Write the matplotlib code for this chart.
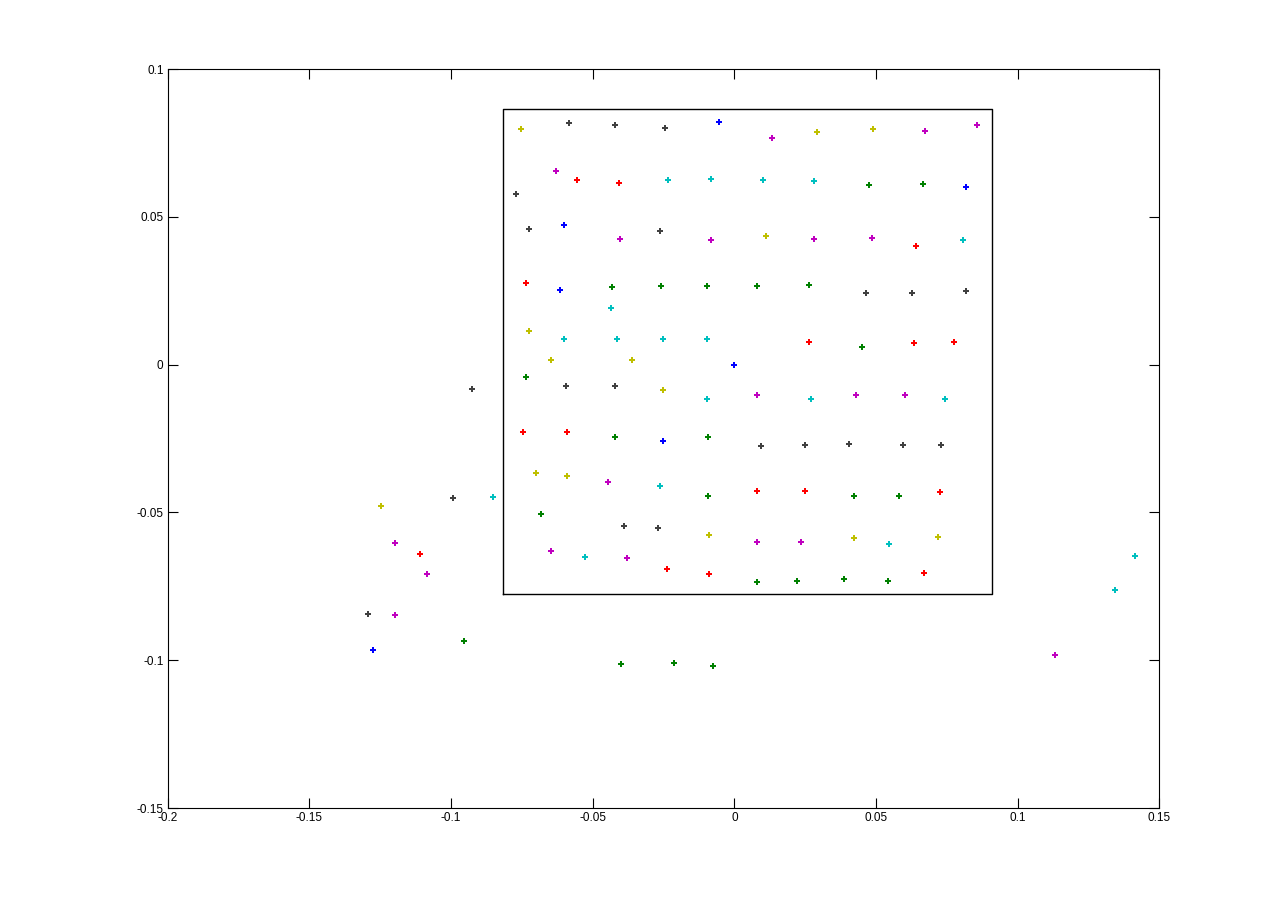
import numpy as np
import matplotlib.pyplot as plt

# point coordinates grouped by colour
yellow_x = [-0.0754, 0.0291, 0.0489, 0.0111, -0.0725, -0.0648, -0.0362, -0.0252,
            -0.0701, -0.0591, -0.0090, 0.0422, 0.0719, -0.1248]
yellow_y = [0.0797, 0.0787, 0.0797, 0.0435, 0.0114, 0.0016, 0.0016, -0.0086,
            -0.0366, -0.0377, -0.0576, -0.0586, -0.0583, -0.0478]

dark_x = [-0.0585, -0.0422, -0.0243, -0.0771, -0.0725, -0.0263, 0.0464, 0.0627, 0.0817,
          -0.0595, -0.0422, 0.0094, 0.0249, 0.0404, 0.0595, 0.0729, -0.0390, -0.0270,
          -0.0927, -0.0994, -0.1294]
dark_y = [0.0818, 0.0811, 0.0801, 0.0577, 0.0459, 0.0452, 0.0243, 0.0243, 0.0249,
          -0.0072, -0.0072, -0.0275, -0.0272, -0.0268, -0.0272, -0.0272, -0.0546, -0.0552,
          -0.0082, -0.0451, -0.0843]

blue_x = [-0.0055, 0.0817, -0.0602, -0.0616, 0.0, -0.0252, -0.1277]
blue_y = [0.0821, 0.0601, 0.0473, 0.0253, 0.0, -0.0258, -0.0965]

magenta_x = [-0.0631, -0.0404, -0.0083, 0.0132, 0.0672, 0.0856, 0.0281, 0.0485, 0.0079,
             0.0429, 0.0602, -0.0447, -0.0648, -0.0379, 0.0079, 0.0235, -0.1198, -0.1085,
             -0.1198, 0.1131]
magenta_y = [0.0655, 0.0425, 0.0422, 0.0767, 0.0791, 0.0811, 0.0425, 0.0429, -0.0103,
             -0.0103, -0.0103, -0.0397, -0.0630, -0.0654, -0.0600, -0.0600, -0.0603, -0.0708,
             -0.0847, -0.0982]

red_x = [-0.0556, -0.0408, 0.0641, -0.0736, 0.0263, 0.0634, 0.0775, -0.0747, -0.0591,
         -0.0238, -0.0090, 0.0079, 0.0249, 0.0726, 0.0669, -0.1110]
red_y = [0.0625, 0.0615, 0.0402, 0.0276, 0.0077, 0.0073, 0.0077, -0.0228, -0.0228,
         -0.0691, -0.0708, -0.0427, -0.0427, -0.0431, -0.0704, -0.0640]

cyan_x = [-0.0235, -0.0083, 0.0101, 0.0281, 0.0807, -0.0436, -0.0602, -0.0415, -0.0252,
          -0.0097, -0.0097, 0.0270, 0.0743, -0.0263, -0.0528, 0.0545, -0.0852, 0.1414, 0.1343]
cyan_y = [0.0625, 0.0628, 0.0625, 0.0621, 0.0422, 0.0192, 0.0087, 0.0087, 0.0087,
          0.0087, -0.0116, -0.0116, -0.0116, -0.0410, -0.0650, -0.0606, -0.0447, -0.0647, -0.0762]

green_x = [0.0475, 0.0665, -0.0432, -0.0259, -0.0097, 0.0079, 0.0263, 0.0450, -0.0736,
           -0.0422, -0.0094, -0.0094, -0.0683, 0.0422, 0.0581, 0.0079, 0.0221, 0.0387, 0.0542,
           -0.0955, -0.0401, -0.0214, -0.0076]
green_y = [0.0608, 0.0611, 0.0263, 0.0266, 0.0266, 0.0266, 0.0270, 0.0060, -0.0042,
           -0.0245, -0.0245, -0.0444, -0.0505, -0.0444, -0.0444, -0.0735, -0.0732, -0.0725, -0.0732,
           -0.0934, -0.1012, -0.1009, -0.1019]

# bounding box drawn around the grid
box_x = [-0.0818, 0.0911]
box_y = [-0.0775, 0.0866]

x_ticks = [-0.2, -0.15, -0.1, -0.05, 0, 0.05, 0.1, 0.15]
x_labels = ["-0.2", "-0.15", "-0.1", "-0.05", "0", "0.05", "0.1", "0.15"]
y_ticks = [-0.15, -0.1, -0.05, 0, 0.05, 0.1]
y_labels = ["-0.15", "-0.1", "-0.05", "0", "0.05", "0.1"]

plt.rcParams['font.family'] = ['Liberation Sans', 'DejaVu Sans']

fig = plt.figure(figsize=(12.81, 9.08), dpi=100)
ax = fig.add_axes([0.1309, 0.1101, 0.7741, 0.8139])

groups = [
    (yellow_x, yellow_y, (0.75, 0.75, 0.0)),
    (dark_x, dark_y, (0.25, 0.25, 0.25)),
    (blue_x, blue_y, (0.0, 0.0, 1.0)),
    (magenta_x, magenta_y, (0.75, 0.0, 0.75)),
    (red_x, red_y, (1.0, 0.0, 0.0)),
    (cyan_x, cyan_y, (0.0, 0.75, 0.75)),
    (green_x, green_y, (0.0, 0.5, 0.0)),
]
for gx, gy, c in groups:
    ax.plot(gx, gy, linestyle="none", marker="P", markersize=5,
            color=c, markeredgewidth=0)

# rectangle around the central grid
ax.plot([box_x[0], box_x[1], box_x[1], box_x[0], box_x[0]],
        [box_y[0], box_y[0], box_y[1], box_y[1], box_y[0]],
        color="black", linewidth=1)

ax.set_xlim(-0.2, 0.15)
ax.set_ylim(-0.15, 0.1)
ax.set_xticks(x_ticks)
ax.set_xticklabels(x_labels)
ax.set_yticks(y_ticks)
ax.set_yticklabels(y_labels)
ax.tick_params(direction="in", top=True, right=True, length=7, width=0.8,
               labelsize=8.5, pad=3)
for s in ax.spines.values():
    s.set_linewidth(0.8)

plt.savefig("out.png", dpi=100)
